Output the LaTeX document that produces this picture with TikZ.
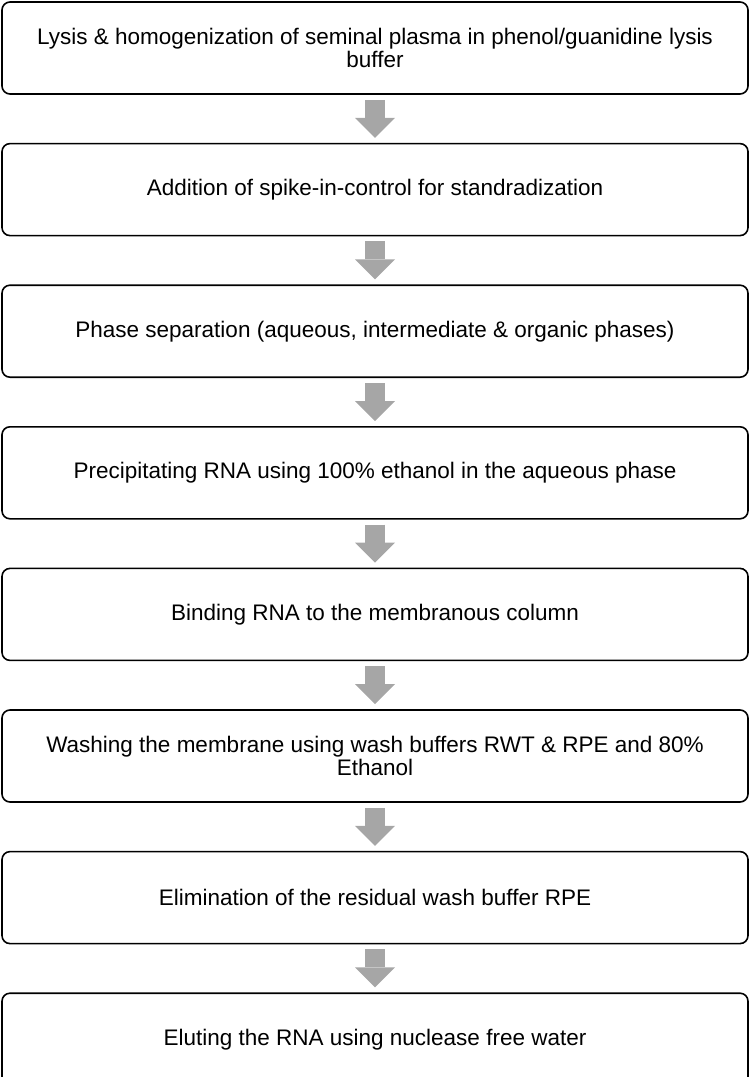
\documentclass[tikz,border=0pt]{standalone}
\usepackage{fontspec}
\setmainfont{Liberation Sans}
\usetikzlibrary{positioning,arrows.meta}
\definecolor{arrowgray}{HTML}{A6A6A6}
\tikzset{
  stepbox/.style={draw, line width=1.6pt, rounded corners=8pt,
    minimum width=746pt, minimum height=92pt, align=center,
    font=\fontsize{22.5}{22.5}\selectfont},
  flow/.style={color=arrowgray, line width=20pt,
    -{Triangle[width=40pt,length=20pt,line width=0pt]},
    shorten <=5pt, shorten >=5pt}}

\begin{document}
\begin{tikzpicture}[node distance=48pt]
        \useasboundingbox (0,0) rectangle (750pt,-1077pt);
        \node[stepbox] (s_1) at (375pt,-48pt) {Lysis \& homogenization of seminal plasma in phenol/guanidine lysis\\buffer};
        \node[stepbox] (s_2) [below=of s_1] {Addition of spike-in-control for standradization};
        \node[stepbox] (s_3) [below=of s_2] {Phase separation (aqueous, intermediate \& organic phases)};
        \node[stepbox] (s_4) [below=of s_3] {Precipitating RNA using 100\% ethanol in the aqueous phase};
        \node[stepbox] (s_5) [below=of s_4] {Binding RNA to the membranous column};
        \node[stepbox] (s_6) [below=of s_5] {Washing the membrane using wash buffers RWT \& RPE and 80\%\\Ethanol};
        \node[stepbox] (s_7) [below=of s_6] {Elimination of the residual wash buffer RPE};
        \node[stepbox] (s_8) [below=of s_7] {Eluting the RNA using nuclease free water};
        \path[flow]
          (s_1) edge (s_2)
          (s_2) edge (s_3)
          (s_3) edge (s_4)
          (s_4) edge (s_5)
          (s_5) edge (s_6)
          (s_6) edge (s_7)
          (s_7) edge (s_8);
      \end{tikzpicture}
\end{document}
